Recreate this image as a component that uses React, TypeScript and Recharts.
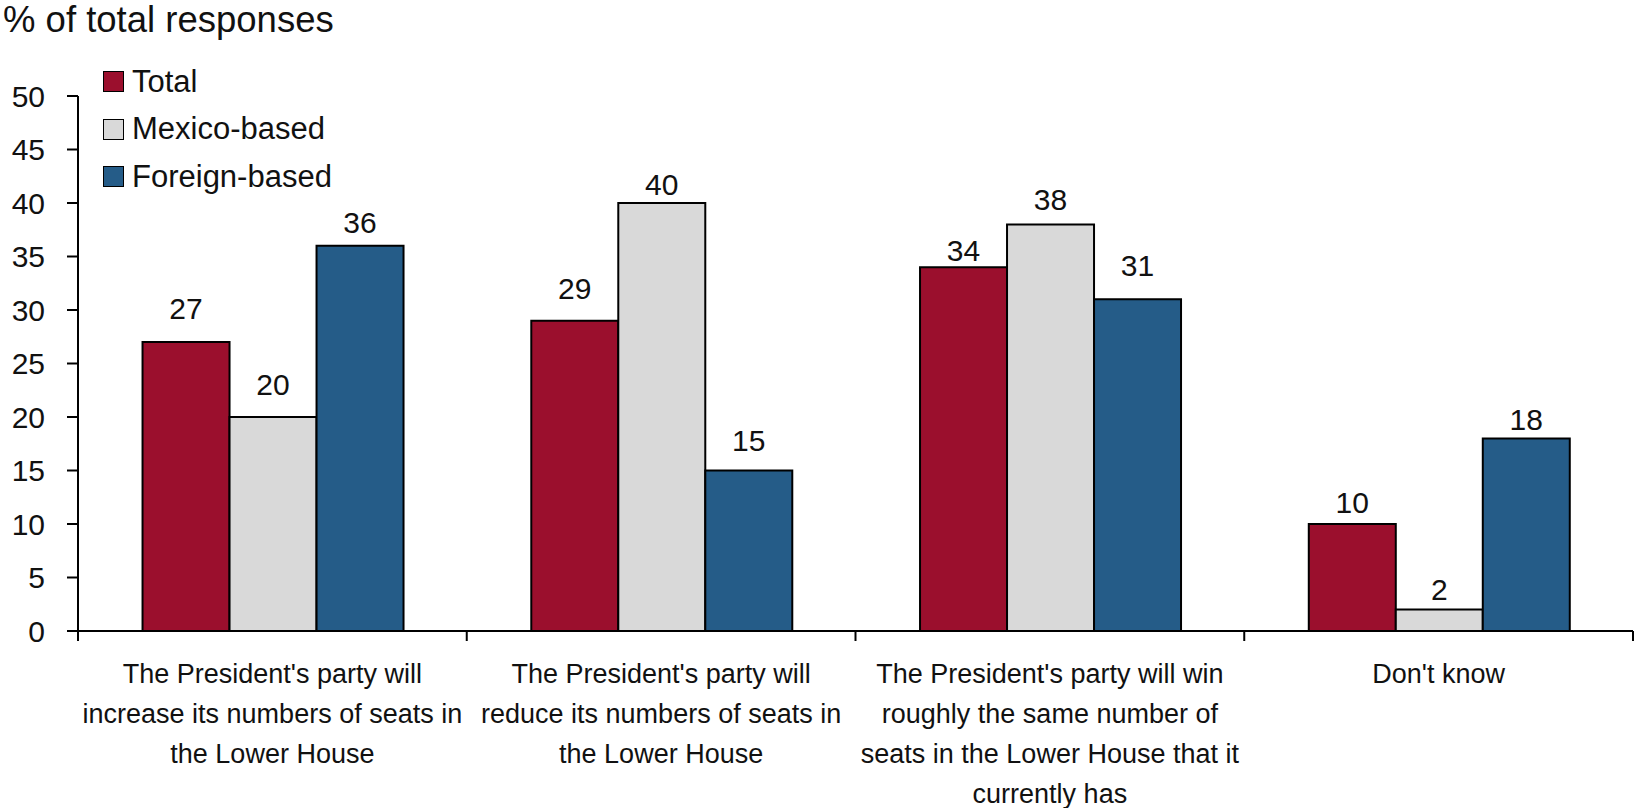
import React from "react"
import { BarChart, Bar, XAxis, YAxis, Legend, LabelList } from "recharts"

// categories (label lines) and series values
const categories = ["increase", "reduce", "same", "dontKnow"]
const categoryLines = [
  ["The President's party will", "increase its numbers of seats in", "the Lower House"],
  ["The President's party will", "reduce its numbers of seats in", "the Lower House"],
  ["The President's party will win", "roughly the same number of", "seats in the Lower House that it", "currently has"],
  ["Don't know"],
]
const totalValues = [27, 29, 34, 10]
const mexicoValues = [20, 40, 38, 2]
const foreignValues = [36, 15, 31, 18]
const yTicks = [0, 5, 10, 15, 20, 25, 30, 35, 40, 45, 50]

// gap (px) between bar top and value label baseline, as placed in the original
const LABEL_GAP: Record<string, number[]> = {
  total: [23, 22, 6, 11],
  mexico: [22, 8, 14, 10],
  foreign: [13, 20, 23, 8],
}

const SERIES = [
  { key: "total", name: "Total", color: "#9b0f2d" },
  { key: "mexico", name: "Mexico-based", color: "#d9d9d9" },
  { key: "foreign", name: "Foreign-based", color: "#255c88" },
]

const data = categories.map((c, i) => ({
  category: c,
  total: totalValues[i],
  mexico: mexicoValues[i],
  foreign: foreignValues[i],
}))

const FONT = "'Liberation Sans', Arial, sans-serif"
const WIDTH = 1635
const HEIGHT = 808

// x-axis tick: boundary tick marks + wrapped category label
const CategoryTick = (props: any) => {
  const { x, y, payload, index, visibleTicksCount } = props
  const half = typeof payload.offset === "number" && payload.offset > 0 ? payload.offset : 1555 / 8
  const lines = categoryLines[index] || []
  const isLast = index === visibleTicksCount - 1
  return (
    <g>
      <line x1={x - half} x2={x - half} y1={y} y2={y + 10} stroke="#000" strokeWidth={2} />
      {isLast && <line x1={x + half} x2={x + half} y1={y} y2={y + 10} stroke="#000" strokeWidth={2} />}
      {lines.map((l, i) => (
        <text
          key={i}
          x={x}
          y={y + 52 + i * 40}
          textAnchor="middle"
          fontFamily={FONT}
          fontSize={27}
          fill="#111"
        >
          {l}
        </text>
      ))}
    </g>
  )
}

const makeValueLabel = (seriesKey: string) => (props: any) => {
  const { x, y, width, value, index } = props
  const gap = LABEL_GAP[seriesKey][index] ?? 8
  return (
    <text
      x={x + width / 2}
      y={y - gap}
      textAnchor="middle"
      fontFamily={FONT}
      fontSize={30}
      fill="#111"
    >
      {value}
    </text>
  )
}

const LegendContent = ({ payload }: any) => {
  const items = SERIES.map((s) => (payload || []).find((p: any) => p.dataKey === s.key || p.value === s.name)).filter(Boolean)
  return (
    <div style={{ fontFamily: FONT, fontSize: 31, color: "#111" }}>
      {items.map((p: any) => (
        <div key={p.value} style={{ display: "flex", alignItems: "center", height: 47.5 }}>
          <span
            style={{
              display: "inline-block",
              width: 19,
              height: 19,
              background: p.color,
              border: "1.5px solid #000",
              marginRight: 8,
            }}
          />
          <span>{p.value}</span>
        </div>
      ))}
    </div>
  )
}

export default function App() {
  return (
    <div style={{ position: "absolute", left: 0, top: 0, width: WIDTH, height: HEIGHT, background: "#fff" }}>
      <div
        style={{
          position: "absolute",
          left: 3,
          top: 0,
          fontFamily: FONT,
          fontSize: 36.5,
          lineHeight: "40px",
          color: "#111",
          zIndex: 2,
        }}
      >
        % of total responses
      </div>
      <BarChart
        width={WIDTH}
        height={HEIGHT}
        data={data}
        margin={{ top: 96, right: 2, left: 0, bottom: 0 }}
        barCategoryGap="16.6%"
        barGap={0}
      >
        <XAxis
          dataKey="category"
          height={177}
          axisLine={{ stroke: "#000", strokeWidth: 2 }}
          tickLine={false}
          tickSize={0}
          tickMargin={0}
          interval={0}
          tick={<CategoryTick />}
        />
        <YAxis
          width={78}
          domain={[0, 50]}
          ticks={yTicks}
          interval={0}
          axisLine={{ stroke: "#000", strokeWidth: 2 }}
          tickLine={{ stroke: "#000", strokeWidth: 2 }}
          tickSize={11}
          tickMargin={22}
          tick={{ fontFamily: FONT, fontSize: 30, fill: "#111" }}
        />
        <Legend
          layout="vertical"
          align="center"
          verticalAlign="middle"
          content={<LegendContent />}
          wrapperStyle={{ top: 58, left: 103, width: 280 }}
        />
        {SERIES.map((s) => (
          <Bar
            key={s.key}
            dataKey={s.key}
            name={s.name}
            fill={s.color}
            stroke="#000"
            strokeWidth={2}
            isAnimationActive={false}
          >
            <LabelList dataKey={s.key} content={makeValueLabel(s.key)} />
          </Bar>
        ))}
      </BarChart>
    </div>
  )
}
